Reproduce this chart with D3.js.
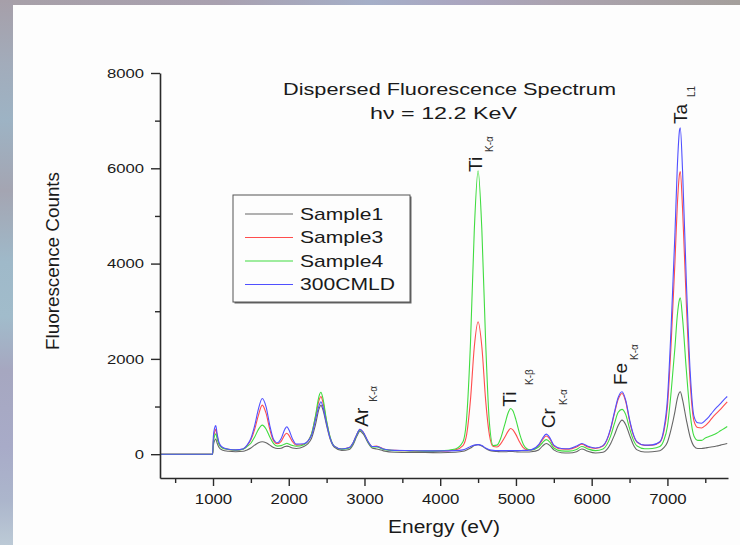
<!DOCTYPE html>
<html>
<head>
<meta charset="utf-8">
<script src="https://cdnjs.cloudflare.com/ajax/libs/d3/7.8.5/d3.min.js"></script>
<style>
  body { margin: 0; background: #fdfdfd; }
  svg { display: block; font-family: "Liberation Sans", Arial, sans-serif; }
</style>
</head>
<body>
<svg id="chart" width="740" height="545"></svg>
<script>
// energy grid (eV), shared by all four spectra
var energy = [
  300, 995, 1005, 1020, 1036, 1055, 1080, 1120, 1200, 1300,
  1400, 1450, 1500, 1550, 1600, 1650, 1700, 1750, 1800, 1850,
  1900, 1950, 1975, 2000, 2050, 2100, 2200, 2300, 2350, 2400,
  2425, 2450, 2500, 2550, 2600, 2700, 2800, 2850, 2900, 2940,
  2980, 3050, 3100, 3160, 3250, 3400, 3600, 3800, 4000, 4200,
  4300, 4350, 4400, 4450, 4500, 4550, 4600, 4650, 4700, 4750,
  4800, 4850, 4900, 4930, 4960, 5000, 5050, 5100, 5150, 5200,
  5300, 5350, 5400, 5450, 5500, 5600, 5700, 5800, 5870, 5950,
  6050, 6150, 6250, 6300, 6350, 6400, 6450, 6500, 6550, 6600,
  6700, 6800, 6900, 6950, 7000, 7050, 7100, 7130, 7160, 7170,
  7200, 7250, 7300, 7350, 7400, 7450, 7500, 7550, 7600, 7650,
  7700, 7750, 7790
];

// fluorescence counts
var sample1 = [
  0, 0, 180, 280, 320, 230, 140, 90, 60, 50,
  60, 90, 130, 190, 240, 260, 240, 190, 140, 120,
  125, 160, 170, 160, 130, 120, 160, 330, 600, 950,
  1030, 940, 600, 300, 150, 80, 100, 200, 380, 480,
  430, 230, 130, 110, 70, 40, 35, 35, 30, 40,
  60, 90, 130, 180, 200, 170, 120, 80, 60, 55,
  50, 50, 55, 55, 55, 50, 45, 45, 45, 50,
  90, 170, 225, 180, 90, 30, 25, 50, 110, 60,
  25, 40, 220, 400, 600, 715, 620, 400, 200, 90,
  45, 50, 70, 130, 250, 530, 900, 1160, 1300, 1310,
  1140, 720, 360, 170, 120, 120, 130, 145, 155, 170,
  190, 210, 225
];
var sample3 = [
  0, 0, 300, 450, 520, 380, 220, 140, 100, 85,
  110, 180, 300, 520, 820, 1030, 860, 520, 280, 220,
  270, 410, 440, 400, 260, 190, 210, 420, 760, 1130,
  1210, 1100, 680, 330, 170, 110, 140, 240, 420, 520,
  470, 260, 160, 170, 110, 80, 70, 65, 65, 90,
  180, 420, 1150, 2250, 2780, 2250, 1130, 400, 160, 150,
  220, 350, 490, 540, 510, 410, 250, 130, 90, 90,
  180, 300, 380, 310, 170, 110, 105, 150, 210, 150,
  120, 170, 520, 850, 1150, 1275, 1100, 700, 400, 250,
  185, 190, 250, 450, 1000, 2350, 4050, 5200, 5880, 5930,
  5150, 3150, 1520, 700, 560, 550, 600, 680, 780, 860,
  940, 1030, 1100
];
var sample4 = [
  0, 0, 260, 380, 430, 320, 200, 130, 100, 85,
  105, 160, 230, 360, 520, 610, 530, 360, 220, 170,
  180, 215, 230, 215, 180, 165, 200, 420, 780, 1220,
  1300, 1180, 700, 340, 170, 105, 130, 230, 410, 510,
  460, 250, 150, 150, 100, 75, 70, 65, 70, 110,
  260, 780, 2350, 4700, 5950, 4700, 2350, 650, 180, 190,
  340, 610, 880, 960, 910, 720, 420, 200, 110, 90,
  150, 240, 305, 250, 130, 70, 65, 100, 160, 110,
  75, 110, 380, 640, 880, 940, 830, 540, 300, 170,
  115, 120, 160, 280, 580, 1320, 2250, 2900, 3250, 3280,
  2850, 1760, 850, 380, 290, 290, 340, 370, 400, 440,
  490, 540, 580
];
var cmld300 = [
  0, 0, 380, 540, 600, 420, 240, 150, 105, 90,
  115, 190, 330, 600, 950, 1170, 1000, 600, 310, 240,
  330, 530, 575, 520, 320, 210, 220, 390, 700, 1020,
  1100, 1000, 640, 320, 170, 110, 140, 240, 420, 520,
  470, 260, 160, 160, 110, 80, 75, 70, 70, 75,
  90, 120, 160, 190, 200, 180, 130, 95, 80, 75,
  75, 75, 75, 75, 75, 75, 75, 80, 80, 90,
  200, 330, 420, 340, 190, 120, 115, 170, 225, 165,
  130, 180, 540, 880, 1190, 1310, 1130, 730, 420, 260,
  190, 195, 260, 500, 1150, 2700, 4650, 6000, 6800, 6850,
  5950, 3620, 1750, 800, 660, 650, 710, 790, 890, 980,
  1060, 1150, 1210
];

var seriesNames = ["Sample1", "Sample3", "Sample4", "300CMLD"];
var seriesColors = ["#666666", "#ff4d4d", "#40dc40", "#5050ff"];

var xMajor = [1000, 2000, 3000, 4000, 5000, 6000, 7000];
var xMinor = [500, 1500, 2500, 3500, 4500, 5500, 6500, 7500];
var yMajor = [0, 2000, 4000, 6000, 8000];
var yMinor = [1000, 3000, 5000, 7000];

// peak labels: element, line, where the label sits (eV, counts), where its subscript sits
var peakNames = ["Ar", "Ti", "Ti", "Cr", "Fe", "Ta"];
var peakSubs = ["K-\u03b1", "K-\u03b1", "K-\u03b2", "K-\u03b1", "K-\u03b1", "L1"];
var peakLabelE = [3046, 4552, 5007, 5516, 6462, 7254];
var peakLabelC = [577, 5923, 997, 544, 1452, 6930];
var peakSubE = [3159, 4697, 5225, 5674, 6612, 7364];
var peakSubC = [1102, 6343, 1452, 1033, 1977, 7497];

var svg = d3.select("#chart");

// slide frame behind the chart (top and left strips)
var defs = svg.append("defs");
var gTop = defs.append("linearGradient").attr("id", "topBand");
[["0", "#a7a0a8"], ["0.3", "#a9a1b0"], ["0.5", "#a5afc8"], ["0.62", "#aaa6c0"], ["0.75", "#aba3b0"], ["1", "#a49f9c"]]
  .forEach(function(s){ gTop.append("stop").attr("offset", s[0]).attr("stop-color", s[1]); });
var gLeft = defs.append("linearGradient").attr("id", "leftBand")
  .attr("x1", 0).attr("y1", 0).attr("x2", 0).attr("y2", 1);
[["0", "#a69fa9"], ["0.12", "#a2acbb"], ["0.22", "#9db3c4"], ["0.35", "#a4a5b2"], ["0.48", "#9fb9c9"],
 ["0.58", "#a1bccb"], ["0.68", "#a6a7c0"], ["0.82", "#a8abc8"], ["0.92", "#acb6cc"], ["1", "#bccad6"]]
  .forEach(function(s){ gLeft.append("stop").attr("offset", s[0]).attr("stop-color", s[1]); });
svg.append("rect").attr("x", 0).attr("y", 0).attr("width", 740).attr("height", 5).attr("fill", "url(#topBand)");
svg.append("rect").attr("x", 0).attr("y", 0).attr("width", 13).attr("height", 545).attr("fill", "url(#leftBand)");

var x = d3.scaleLinear().domain([300, 7800]).range([160, 728]);
var y = d3.scaleLinear().domain([-500, 8000]).range([478, 73]);

// stretch text sideways, the scanned figure is wider than the font
function stretch(sel, k) {
  sel.each(function(){
    var w = this.getComputedTextLength();
    d3.select(this).attr("textLength", w * k).attr("lengthAdjust", "spacingAndGlyphs");
  });
}

// spectra
var series = [sample1, sample3, sample4, cmld300];
var line = d3.line()
  .x(function(d, i){ return x(energy[i]); })
  .y(function(d){ return y(d); })
  .curve(d3.curveMonotoneX);
series.forEach(function(vals, k){
  svg.append("path")
    .datum(vals)
    .attr("fill", "none")
    .attr("stroke", seriesColors[k])
    .attr("stroke-width", 1.1)
    .attr("d", line);
});

// axes, plain integer labels
var fmt = d3.format("d");
var axisColor = "#2a2a2a";
var xAxis = svg.append("g").attr("transform", "translate(0,478)")
  .call(d3.axisBottom(x).tickValues(xMajor).tickFormat(fmt).tickSize(8).tickPadding(8).tickSizeOuter(0));
svg.append("g").attr("transform", "translate(0,478)")
  .call(d3.axisBottom(x).tickValues(xMinor).tickSize(5).tickFormat("").tickSizeOuter(0))
  .select(".domain").remove();
var yAxis = svg.append("g").attr("transform", "translate(160,0)")
  .call(d3.axisLeft(y).tickValues(yMajor).tickFormat(fmt).tickSize(9).tickPadding(7).tickSizeOuter(0));
svg.append("g").attr("transform", "translate(160,0)")
  .call(d3.axisLeft(y).tickValues(yMinor).tickSize(5).tickFormat("").tickSizeOuter(0))
  .select(".domain").remove();

svg.selectAll(".domain").attr("stroke", axisColor).attr("stroke-width", 1.6);
svg.selectAll(".tick line").attr("stroke", axisColor).attr("stroke-width", 1.4);
xAxis.selectAll("text").attr("font-size", 14).attr("fill", "#1a1a1a")
  .attr("font-family", "'Liberation Sans', Arial, sans-serif");
yAxis.selectAll("text").attr("font-size", 13).attr("fill", "#1a1a1a")
  .attr("font-family", "'Liberation Sans', Arial, sans-serif");
stretch(xAxis.selectAll("text"), 1.2);
stretch(yAxis.selectAll("text"), 1.28);

// axis titles
svg.append("text")
  .attr("x", 444).attr("y", 533)
  .attr("text-anchor", "middle").attr("font-size", 18).attr("fill", "#1a1a1a")
  .attr("textLength", 112).attr("lengthAdjust", "spacingAndGlyphs")
  .text("Energy (eV)");
svg.append("text")
  .attr("transform", "translate(59,261) rotate(-90)")
  .attr("text-anchor", "middle").attr("font-size", 18.5).attr("fill", "#1a1a1a")
  .attr("textLength", 178).attr("lengthAdjust", "spacingAndGlyphs")
  .text("Fluorescence Counts");

// chart title, two lines
svg.append("text")
  .attr("x", 449.5).attr("y", 95)
  .attr("text-anchor", "middle").attr("font-size", 16.5).attr("fill", "#1a1a1a")
  .attr("textLength", 333).attr("lengthAdjust", "spacingAndGlyphs")
  .text("Dispersed Fluorescence Spectrum");
svg.append("text")
  .attr("x", 443.5).attr("y", 118.5)
  .attr("text-anchor", "middle").attr("font-size", 16.5).attr("fill", "#1a1a1a")
  .attr("textLength", 147).attr("lengthAdjust", "spacingAndGlyphs")
  .text("h\u03bd = 12.2 KeV");

// peak labels, rotated, subscript next to them
peakNames.forEach(function(name, i){
  svg.append("text")
    .attr("transform", "translate(" + x(peakLabelE[i]) + "," + y(peakLabelC[i]) + ") rotate(-90)")
    .attr("font-size", 19).attr("fill", "#1a1a1a")
    .text(name);
  svg.append("text")
    .attr("transform", "translate(" + x(peakSubE[i]) + "," + y(peakSubC[i]) + ") rotate(-90)")
    .attr("font-size", 10).attr("fill", "#333")
    .text(peakSubs[i]);
});

// legend box with a thin shadow
var legend = svg.append("g");
legend.append("rect").attr("x", 234.5).attr("y", 196.5).attr("width", 177).attr("height", 107).attr("fill", "#666");
legend.append("rect").attr("x", 233).attr("y", 195).attr("width", 177).attr("height", 107)
  .attr("fill", "#fdfdfd").attr("stroke", "#555").attr("stroke-width", 1);
seriesNames.forEach(function(name, i){
  var base = 219.5 + i * 23.5;
  legend.append("line")
    .attr("x1", 245).attr("x2", 293).attr("y1", base - 5.5).attr("y2", base - 5.5)
    .attr("stroke", seriesColors[i]).attr("stroke-width", 1.1);
  legend.append("text")
    .attr("x", 300).attr("y", base)
    .attr("font-size", 17).attr("fill", "#1a1a1a")
    .text(name);
});
stretch(legend.selectAll("text"), 1.24);
</script>
</body>
</html>
